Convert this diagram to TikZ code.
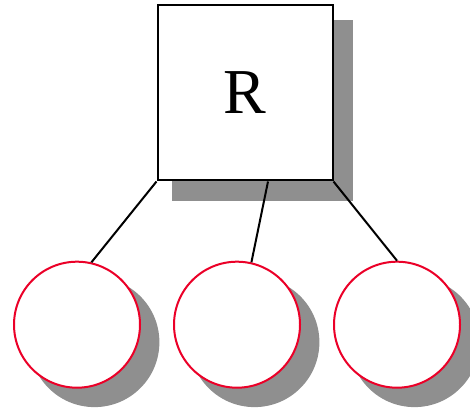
\documentclass[tikz,border=0pt]{standalone}
\usepackage{fontspec}
\setmainfont{Liberation Serif}
\usetikzlibrary{shadows,calc}
\definecolor{ringred}{RGB}{235,0,40}
\definecolor{shadowgray}{RGB}{143,143,143}
\tikzset{
  boxshadow/.style={drop shadow={shadow xshift=17pt, shadow yshift=-17pt,
      shadow scale=1.03, fill=shadowgray, opacity=1}},
  rootbox/.style={draw=black, line width=2pt, fill=white, minimum size=175pt,
      inner sep=0pt, boxshadow, font=\fontsize{64}{64}\selectfont},
  leaf/.style={circle, draw=ringred, line width=2pt, fill=white,
      minimum size=126pt, inner sep=0pt, boxshadow},
  edge/.style={draw=black, line width=2pt}
}
\begin{document}
\begin{tikzpicture}[x=1pt, y=1pt]
  \useasboundingbox (0,0) rectangle (470,407);
  % root and its three children
  \node[rootbox] (R) at (245,314) {R};
  \node[leaf] (c1) at (77,82.3) {};
  \node[leaf] (c2) at (237,82.3) {};
  \node[leaf] (c3) at (397,82.3) {};
  \coordinate (Rmid) at ($(R.south west)!0.63!(R.south east)$);
  % edges
  \draw[edge] (R.south west) -- (c1.77);
  \draw[edge] (Rmid) -- (c2.77);
  \draw[edge] (R.south east) -- (c3.90);
\end{tikzpicture}
\end{document}
